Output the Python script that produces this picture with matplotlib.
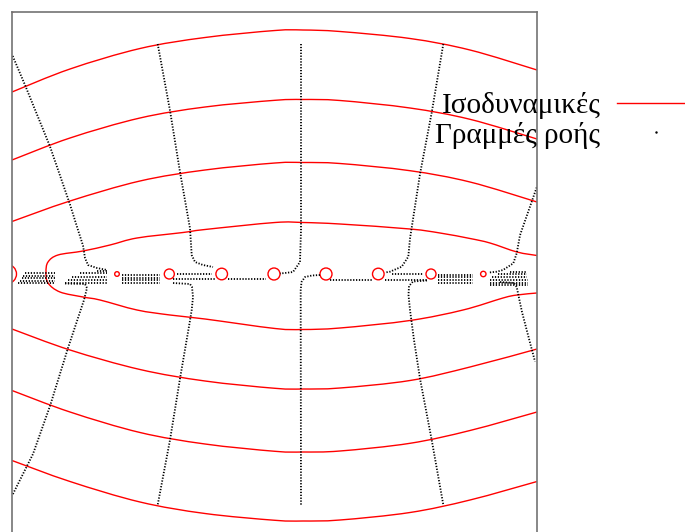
import matplotlib
matplotlib.use("Agg")
import matplotlib.pyplot as plt
from matplotlib.lines import Line2D
from matplotlib.patches import Circle, PathPatch
from matplotlib.path import Path

plt.rcParams["font.family"] = ["Liberation Serif", "DejaVu Serif"]

# ---- data (grid units, charge row at y ~ -1) ----
# open equipotentials, all sampled at the same x
EQ_X = [0, 58, 128, 193, 263, 291, 328, 398, 458, 525]
EQ_Y = {
    "u1": [181, 204, 224.5, 235.5, 242.5, 243, 241.5, 234.5, 223, 203],
    "u2": [113, 135, 155, 166, 172.7, 173.5, 172.5, 165, 153.7, 134],
    "u3": [51.5, 72, 92, 103, 110, 110.5, 109.5, 102.3, 91, 71],
    "l1": [-56, -77, -96.5, -108, -115.3, -116, -115, -107.5, -94, -76],
    "l2": [-117.5, -139, -159.5, -171, -178.3, -179, -178, -170.3, -157.5, -139],
    "l3": [-187.5, -208.5, -229, -240.5, -247.3, -248, -247, -239.5, -227, -208.5],
}
# corner piece of the next equipotential up
EQ0_X = [0, 10, 58]
EQ0_Y = [260.5, 264.5, 281]

# inner equipotential: enters on the right, wraps round the left, leaves on the right
LOOP_X = [525, 505, 478, 458, 428, 398, 328, 291, 263, 193, 171, 125, 98, 71, 46, 36,
          34, 36, 48, 71, 88, 125, 158, 193, 263, 291, 328, 398, 451, 491, 505, 525]
LOOP_Y = [17.5, 21, 30, 34.5, 40, 44, 49, 50.5, 50.5, 43.5, 40.5, 35, 28, 22, 18, 11,
          1, -10, -19, -24, -27, -37, -42, -46, -55.5, -56.5, -55, -47.5, -37, -25, -22, -20]

# small equipotentials around the charges
CHG_X = [-5, 105, 157.3, 209.7, 262, 314, 366.3, 419, 471.3]
CHG_Y = [-1, -1, -1, -1, -1, -1, -1, -1, -1]
CHG_R = [9.5, 2.3, 5, 5.8, 6, 6, 5.8, 5, 2.7]

# field lines
FLOW = [
    ([0.7, 13, 38, 58, 66, 71, 73, 76, 85, 95],
     [217, 188, 126.5, 68.5, 43, 27.5, 15, 8, 5, 3]),
    ([53, 73, 75, 72, 68, 56, 38, 21, 0.7],
     [-10.5, -11, -15, -27, -39, -75, -133, -181, -221.5]),
    ([145.7, 158, 168, 178, 179.7, 183, 191, 201],
     [229, 162.4, 101, 44.6, 18, 11, 8, 6]),
    ([161, 178, 180, 181, 179.7, 178, 168, 158, 145.7],
     [-10, -11, -14, -24, -37, -47.5, -105.6, -167, -231.8]),
    ([289, 289, 288, 281, 273, 268],
     [229, 43, 11, 1, 0, -0.5]),
    ([308, 300, 293, 289.5, 288.7, 288.7, 289],
     [-2, -2.5, -4, -9, -17, -37, -232]),
    ([431.3, 419.7, 408, 398, 396.3, 389.7, 378, 373],
     [229, 160.4, 99, 34.4, 16.3, 6.3, 1.3, 0.5]),
    ([415, 401, 397, 396.5, 398, 402, 408, 419.7, 431.3],
     [-7.5, -8.5, -13, -22, -37, -67, -105.6, -167, -231.8]),
    ([524.7, 508, 504.7, 501.3, 491, 484.7, 477],
     [85.6, 37.8, 19.7, 9.7, 3, 1.3, 0.5]),
    ([488, 502, 504.7, 507, 510, 516, 523],
     [-9, -10, -14, -25, -39, -62, -88.5]),
]
# short flow rows packed along the charge line
ROW_X0 = [13, 11, 9.5, 8, 6,
          85, 68, 60, 56, 53,
          110, 110, 110, 110,
          165, 161, 216, 318, 380, 373,
          426, 426, 426, 426,
          498, 486, 480, 478, 478, 478]
ROW_X1 = [43, 43, 43, 43, 43,
          95, 95, 95, 95, 96,
          148, 148, 148, 148,
          200, 204, 254, 360, 411, 415,
          461, 461, 461, 461,
          515, 515, 515, 516, 516, 516]
ROW_Y = [0, -2.5, -5, -7.5, -10,
         2.3, -0.3, -3.7, -7, -10.3,
         -2, -4.5, -7, -9.5,
         -0.5, -6, -6, -7, -0.5, -6.5,
         -2, -4.3, -7, -9.7,
         1.3, -1.3, -4.3, -7, -9.7, -12]

LABELS = ["Ισοδυναμικές", "Γραμμές ροής"]


def smooth_path(xs, ys):
    """Catmull-Rom through the read points, as cubic Bezier segments."""
    pts = list(zip(xs, ys))
    verts, codes = [pts[0]], [Path.MOVETO]
    n = len(pts)
    for i in range(n - 1):
        p0 = pts[max(i - 1, 0)]; p1 = pts[i]; p2 = pts[i + 1]; p3 = pts[min(i + 2, n - 1)]
        c1 = (p1[0] + (p2[0] - p0[0]) / 6, p1[1] + (p2[1] - p0[1]) / 6)
        c2 = (p2[0] - (p3[0] - p1[0]) / 6, p2[1] - (p3[1] - p1[1]) / 6)
        verts += [c1, c2, p2]; codes += [Path.CURVE4] * 3
    return Path(verts, codes)


# ---- figure ----
fig = plt.figure(figsize=(6.85, 5.32), dpi=100)
ax = fig.add_axes([12 / 685, -0.0094, 525 / 685, 525 / 532])
ax.set_xlim(0, 525)
ax.set_ylim(-264, 261)
ax.set_xticks([]); ax.set_yticks([])
for s in ax.spines.values():
    s.set_color("0.45"); s.set_linewidth(1.2)

DOTS = dict(color="black", lw=1.3, ls=(0, (0.7, 0.9)))

for ys in EQ_Y.values():
    ax.add_patch(PathPatch(smooth_path(EQ_X, ys), fill=False, ec="red", lw=1.0))
ax.add_patch(PathPatch(smooth_path(EQ0_X, EQ0_Y), fill=False, ec="red", lw=1.0))
ax.add_patch(PathPatch(smooth_path(LOOP_X, LOOP_Y), fill=False, ec="red", lw=1.0))
for x, y, r in zip(CHG_X, CHG_Y, CHG_R):
    ax.add_patch(Circle((x, y), r, fill=False, ec="red", lw=1.0))

for xs, ys in FLOW:
    ax.plot(xs, ys, **DOTS)
for x0, x1, y in zip(ROW_X0, ROW_X1, ROW_Y):
    ax.plot([x0, x1], [y, y], **DOTS)

handles = [Line2D([], [], color="red", lw=1.0),
           Line2D([], [], ls="none", marker=".", ms=1.5, color="black")]
fig.legend(handles, LABELS, loc="upper right", bbox_to_anchor=(1.015, 0.8275),
           markerfirst=False, frameon=False, fontsize=21, handlelength=2.7,
           handletextpad=0.55, labelspacing=0.1, borderpad=0, borderaxespad=0)

fig.savefig("out.png", dpi=100)
